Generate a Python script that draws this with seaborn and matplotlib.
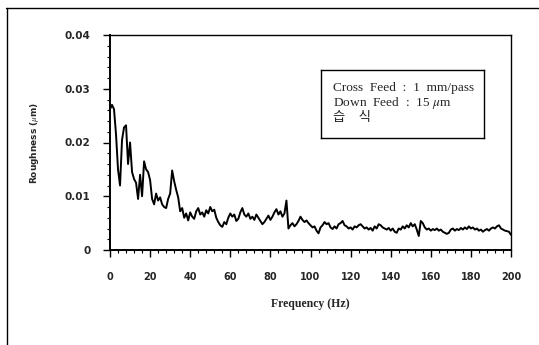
import numpy as np
import pandas as pd
import matplotlib
matplotlib.use("Agg")
import matplotlib.pyplot as plt
from matplotlib.lines import Line2D
from matplotlib.ticker import MultipleLocator, FixedLocator
import seaborn as sns

# ---- data ----
roughness = [
    0.0262, 0.0270, 0.0262, 0.0215, 0.0150, 0.0120, 0.0205, 0.0228, 0.0232, 0.0160,
    0.0200, 0.0145, 0.0132, 0.0125, 0.0095, 0.0140, 0.0100, 0.0165, 0.0150, 0.0145,
    0.0130, 0.0095, 0.0085, 0.0105, 0.0092, 0.0098, 0.0085, 0.0080, 0.0078, 0.0095,
    0.0105, 0.0148, 0.0128, 0.0112, 0.0098, 0.0072, 0.0078, 0.0060, 0.0068, 0.0055,
    0.0070, 0.0062, 0.0058, 0.0072, 0.0078, 0.0066, 0.0070, 0.0062, 0.0074, 0.0068,
    0.0080, 0.0072, 0.0075, 0.0060, 0.0052, 0.0046, 0.0043, 0.0052, 0.0048, 0.0060,
    0.0068, 0.0062, 0.0066, 0.0054, 0.0058, 0.0070, 0.0078, 0.0066, 0.0062, 0.0068,
    0.0058, 0.0062, 0.0056, 0.0066, 0.0060, 0.0054, 0.0048, 0.0052, 0.0058, 0.0064,
    0.0056, 0.0062, 0.0070, 0.0076, 0.0066, 0.0072, 0.0062, 0.0068, 0.0092, 0.0040,
    0.0046, 0.0050, 0.0044, 0.0048, 0.0054, 0.0062, 0.0056, 0.0052, 0.0055, 0.0050,
    0.0046, 0.0042, 0.0044, 0.0036, 0.0031, 0.0042, 0.0046, 0.0052, 0.0048, 0.0050,
    0.0042, 0.0039, 0.0044, 0.0040, 0.0048, 0.0050, 0.0054, 0.0046, 0.0044, 0.0040,
    0.0042, 0.0038, 0.0044, 0.0042, 0.0046, 0.0048, 0.0044, 0.0040, 0.0042, 0.0038,
    0.0041, 0.0036, 0.0044, 0.0040, 0.0048, 0.0046, 0.0042, 0.0040, 0.0038, 0.0041,
    0.0036, 0.0040, 0.0034, 0.0032, 0.0040, 0.0038, 0.0044, 0.0040, 0.0046, 0.0042,
    0.0050, 0.0044, 0.0048, 0.0038, 0.0026, 0.0054, 0.0050, 0.0042, 0.0038, 0.0040,
    0.0036, 0.0039, 0.0037, 0.0040, 0.0036, 0.0038, 0.0034, 0.0032, 0.0030, 0.0032,
    0.0038, 0.0040, 0.0036, 0.0039, 0.0037, 0.0041, 0.0038, 0.0042, 0.0039, 0.0044,
    0.0040, 0.0042, 0.0038, 0.0040, 0.0036, 0.0038, 0.0034, 0.0037, 0.0039, 0.0036,
    0.0040, 0.0042, 0.0040, 0.0044, 0.0046, 0.0040, 0.0038, 0.0036, 0.0035, 0.0034,
    0.0028,
]
frequency = np.arange(len(roughness))  # 1 Hz sampling grid, 0..200 Hz

x_ticks = [0, 20, 40, 60, 80, 100, 120, 140, 160, 180, 200]
y_ticks = [0, 0.01, 0.02, 0.03, 0.04]
y_tick_labels = ["0", "0.01", "0.02", "0.03", "0.04"]
legend_lines = ["Cross  Feed  :  1  mm/pass", "Down  Feed  :  15 $\\mu$m", "습    식"]

df = pd.DataFrame({"Frequency": frequency, "Roughness": roughness})

sns.set_theme(style="white")
plt.rcParams["font.family"] = ["Liberation Serif", "Noto Sans CJK KR", "DejaVu Sans"]
plt.rcParams["mathtext.fontset"] = "stix"

W, H = 539, 345
fig = plt.figure(figsize=(W / 100, H / 100), dpi=100)
ax = fig.add_axes([110 / W, 1 - 250 / H, (511 - 110) / W, (250 - 35) / H])

sns.lineplot(data=df, x="Frequency", y="Roughness", ax=ax, color="black",
             linewidth=1.4, estimator=None)

ax.set_xlim(0, 200)
ax.set_ylim(0, 0.04)
ax.xaxis.set_major_locator(FixedLocator(x_ticks))
ax.xaxis.set_minor_locator(MultipleLocator(4))
ax.yaxis.set_major_locator(FixedLocator(y_ticks))
ax.yaxis.set_minor_locator(MultipleLocator(0.002))
ax.set_xticklabels([str(t) for t in x_ticks], fontfamily="DejaVu Sans",
                   fontsize=7, fontweight="bold")
ax.set_yticklabels(y_tick_labels, fontfamily="DejaVu Sans",
                   fontsize=7.5, fontweight="bold")
ax.tick_params(axis="x", which="major", direction="out", length=5,
               width=1.0, color="black", pad=11, bottom=True)
ax.tick_params(axis="y", which="major", direction="out", length=5,
               width=1.0, color="black", pad=9, left=True)
ax.tick_params(axis="both", which="minor", direction="out", length=2.5,
               width=0.8, color="black", bottom=True, left=True)

for s in ax.spines.values():
    s.set_color("black")
    s.set_linewidth(1.0)
ax.spines["left"].set_linewidth(1.4)
ax.spines["bottom"].set_linewidth(1.4)

ax.set_xlabel("Frequency (Hz)", fontsize=8.5, fontweight="bold",
              fontfamily="Liberation Serif", labelpad=11)
ax.set_ylabel("Roughness ($\\mu$m)", fontsize=6.5, fontweight="bold",
              fontfamily="DejaVu Sans", labelpad=17)

# annotation box
box_ax = fig.add_axes([321 / W, 1 - 138 / H, (484 - 321) / W, (138 - 70) / H])
box_ax.set_xticks([])
box_ax.set_yticks([])
for s in box_ax.spines.values():
    s.set_color("black")
    s.set_linewidth(1.0)
ys = [88, 103, 118]
for txt, yy in zip(legend_lines, ys):
    fig.text(333 / W, 1 - yy / H, txt, fontsize=9.6, va="center", ha="left",
             family=["Liberation Serif", "Noto Sans CJK KR"])

# outer frame (top and left edges)
fig.add_artist(Line2D([6 / W, 1.0], [1 - 8 / H, 1 - 8 / H], color="black",
                      linewidth=1.0, transform=fig.transFigure))
fig.add_artist(Line2D([7 / W, 7 / W], [1 - 8 / H, 0.0], color="black",
                      linewidth=1.0, transform=fig.transFigure))

fig.savefig("out.png", dpi=100)
